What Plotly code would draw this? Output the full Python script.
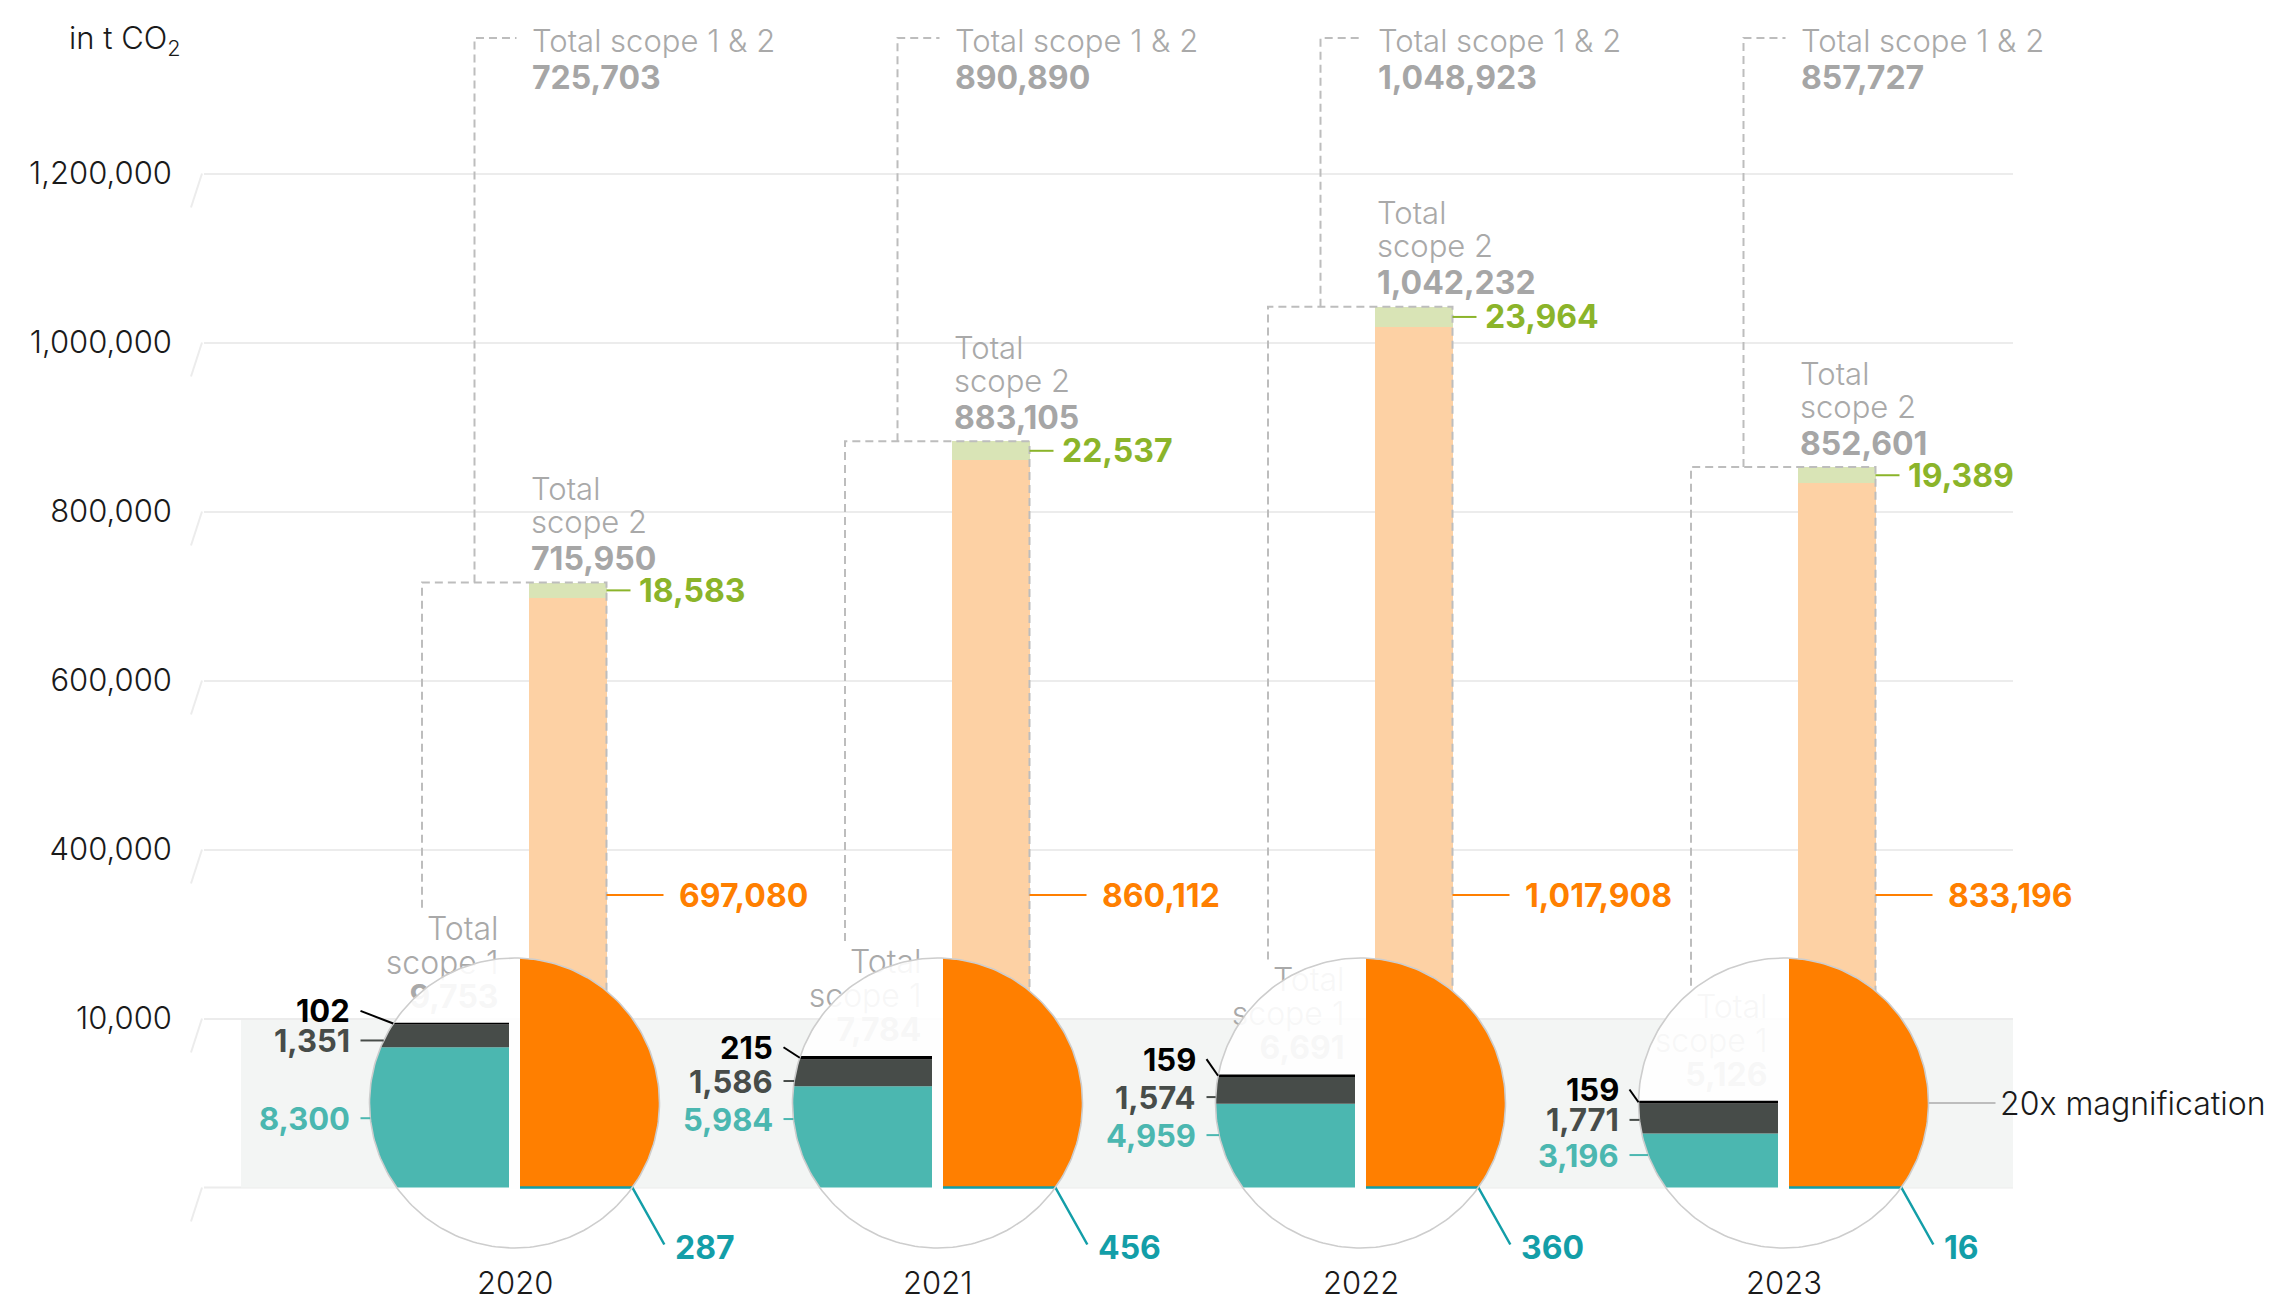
import numpy as np
import plotly.graph_objects as go

# ---------------- data (t CO2) ----------------
years = ["2020", "2021", "2022", "2023"]
scope1_teal = [8300, 5984, 4959, 3196]
scope1_dark = [1351, 1586, 1574, 1771]
scope1_black = [102, 215, 159, 159]
scope1_total = [9753, 7784, 6691, 5126]
scope2_orange = [697080, 860112, 1017908, 833196]
scope2_green = [18583, 22537, 23964, 19389]
scope2_teal = [287, 456, 360, 16]
scope2_total = [715950, 883105, 1042232, 852601]
scope12_total = [725703, 890890, 1048923, 857727]

tick_vals = [200000, 400000, 600000, 800000, 1000000, 1200000]
tick_text = ["10,000", "400,000", "600,000", "800,000", "1,000,000", "1,200,000"]

# label heights (t CO2 inside the magnified 0-10,000 band) for scope 1 labels
lbl_black_pos = [10450, 8300, 7600, 5800]
lbl_dark_pos = [8700, 6300, 5350, 4000]
lbl_teal_pos = [4100, 4050, 3100, 1920]

# ---------------- styling / geometry ----------------
FONT = "Inter, 'Open Sans', sans-serif"
TEAL = "#4bb7b0"
DARK = "#474c49"
BLACK = "#000000"
ORANGE = "#ff7f00"
PEACH = "#fdd1a4"
LGREEN = "#d9e4b6"
GREEN = "#8bb42a"
DTEAL = "#139ea8"
GRAYTXT = "#a9a9a9"
BAND = "#f3f5f4"
GRID = "#ececec"
DASHC = "#bdbdbd"

MAG = 20
BAND_TOP = 10000 * MAG
W, H = 2290, 1300
PL, PR = 204, 2013
ZERO_PX = 1187.5
KY = 169 / 200000.0
KX = 423.0
X0 = 514.5


def ux(p):
    return p / KX


def uy(p):
    return p / KY


def ypage(px):
    return (ZERO_PX - px) / KY


xr = [(PL - X0) / KX, (PR - X0) / KX]
yr = [(ZERO_PX - H) / KY, ZERO_PX / KY]

xs = np.arange(len(years), dtype=float)
R = 145
rx, ry = ux(R), uy(R)
cy = BAND_TOP / 2
gap = ux(5.5)


def hw(y):
    y = np.asarray(y, dtype=float)
    return rx * np.sqrt(np.clip(1 - ((y - cy) / ry) ** 2, 0, None))


fig = go.Figure()

# ---- scope 2 stacked bars (main scale) ----
bar_c, bar_w = ux(53), ux(78)
for vals, col in [(scope2_teal, DTEAL), (scope2_orange, PEACH), (scope2_green, LGREEN)]:
    fig.add_bar(x=xs + bar_c, y=vals, width=bar_w, marker=dict(color=col, line=dict(width=0)),
                hoverinfo="skip", showlegend=False)

# ---- dashed outlines ----
TOP_LINE_Y = ypage(38)
dx_, dy_ = [], []
for i in range(len(years)):
    s1top = scope1_total[i] * MAG
    dx_ += [xs[i] - ux(92.5), xs[i] - ux(92.5), xs[i] + ux(92), xs[i] + ux(92), None]
    dy_ += [s1top + uy(115), scope2_total[i], scope2_total[i], 0, None]
    dx_ += [xs[i] - ux(40), xs[i] - ux(40), xs[i] + ux(2), None]
    dy_ += [scope2_total[i], TOP_LINE_Y, TOP_LINE_Y, None]
fig.add_scatter(x=dx_, y=dy_, mode="lines", line=dict(color=DASHC, width=2, dash="8px,5px"),
                hoverinfo="skip", showlegend=False)

# ---- scope 1 total labels (behind magnifier) ----
lx, ly, lt, bx, by, bt = [], [], [], [], [], []
for i in range(len(years)):
    top = scope1_total[i] * MAG
    lx += [xs[i] - ux(16)] * 2
    ly += [top + uy(91), top + uy(57)]
    lt += ["Total", "scope 1"]
    bx.append(xs[i] - ux(16))
    by.append(top + uy(23))
    bt.append(f"{scope1_total[i]:,}")
fig.add_scatter(x=lx, y=ly, text=lt, mode="text", textposition="middle left",
                textfont=dict(family=FONT, size=32, color=GRAYTXT, weight=300),
                hoverinfo="skip", showlegend=False)
fig.add_scatter(x=bx, y=by, text=bt, mode="text", textposition="middle left",
                textfont=dict(family=FONT, size=32, color=GRAYTXT, weight=700),
                hoverinfo="skip", showlegend=False)

# ---- magnifier circle ----
t = np.linspace(0, 2 * np.pi, 241)
cx_, cy_ = [], []
for i in range(len(years)):
    cx_ += list(xs[i] + rx * np.cos(t)) + [None]
    cy_ += list(cy + ry * np.sin(t)) + [None]
fig.add_scatter(x=cx_, y=cy_, mode="lines", fill="toself", fillcolor="rgba(255,255,255,0.9)",
                line=dict(width=0), hoverinfo="skip", showlegend=False)


# scope 1 segments, clipped to the left half of the magnifier
def seg_poly(i, ya, yb):
    yy = np.linspace(ya, yb, 40)
    xl = xs[i] - hw(yy)
    xl = np.minimum(xl, xs[i] - gap)
    return list(xl) + [xs[i] - gap, xs[i] - gap, None], list(yy) + [yb, ya, None]


for vals_lo, vals, col in [
    ([0] * 4, scope1_teal, TEAL),
    (scope1_teal, scope1_dark, DARK),
    ([a + b for a, b in zip(scope1_teal, scope1_dark)], scope1_black, BLACK),
]:
    px_, py_ = [], []
    for i in range(len(years)):
        a, b = seg_poly(i, vals_lo[i] * MAG, (vals_lo[i] + vals[i]) * MAG)
        px_ += a
        py_ += b
    fig.add_scatter(x=px_, y=py_, mode="lines", fill="toself", fillcolor=col,
                    line=dict(width=0), hoverinfo="skip", showlegend=False)

# scope 2 (orange) right half of the magnifier
ox, oy = [], []
ytop = cy + ry * np.sqrt(1 - (gap / rx) ** 2)
for i in range(len(years)):
    yy = np.linspace(0, ytop, 80)
    ox += list(xs[i] + hw(yy)) + [xs[i] + gap, xs[i] + gap, None]
    oy += list(yy) + [ytop, 0, None]
fig.add_scatter(x=ox, y=oy, mode="lines", fill="toself", fillcolor=ORANGE,
                line=dict(width=0), hoverinfo="skip", showlegend=False)

# small scope 2 component line at the base
tx, ty = [], []
for i in range(len(years)):
    e = xs[i] + float(hw(0))
    tx += [xs[i] + gap, e, e + ux(32), None]
    ty += [0, 0, -uy(57), None]
fig.add_scatter(x=tx, y=ty, mode="lines", line=dict(color=DTEAL, width=2.5),
                hoverinfo="skip", showlegend=False)

# circle outline
fig.add_scatter(x=cx_, y=cy_, mode="lines", line=dict(color="#cdcdcd", width=1.6),
                hoverinfo="skip", showlegend=False)


# ---- connectors ----
def add_lines(xl, yl, col, w=2):
    fig.add_scatter(x=xl, y=yl, mode="lines", line=dict(color=col, width=w),
                    hoverinfo="skip", showlegend=False)


kx, ky = [], []
gx, gy = [], []
ax_, ay_ = [], []
dkx, dky = [], []
tkx, tky = [], []
for i in range(len(years)):
    xr_bar = xs[i] + ux(92)
    gmid = scope2_total[i] - scope2_green[i] / 2
    gx += [xr_bar, xs[i] + ux(116), None]
    gy += [gmid, gmid, None]
    oyl = ypage(895)
    ax_ += [xr_bar, xs[i] + ux(149), None]
    ay_ += [oyl, oyl, None]
    by_ = (scope1_total[i] - scope1_black[i] / 2) * MAG
    kx += [xs[i] - ux(154), xs[i] - float(hw(by_)), None]
    ky += [lbl_black_pos[i] * MAG, by_, None]
    yd = lbl_dark_pos[i] * MAG
    dkx += [xs[i] - ux(154), xs[i] - float(hw(yd)), None]
    dky += [yd, yd, None]
    yt = lbl_teal_pos[i] * MAG
    tkx += [xs[i] - ux(154), xs[i] - float(hw(yt)), None]
    tky += [yt, yt, None]
add_lines(gx, gy, GREEN)
add_lines(ax_, ay_, ORANGE)
add_lines(kx, ky, BLACK)
add_lines(dkx, dky, DARK)
add_lines(tkx, tky, TEAL)
last = xs[-1]
add_lines([last + rx, last + ux(212)], [cy, cy], "#bdbdbd")

# ---- annotations ----
ann = []


def A(x, y, text, color, weight=300, size=32, xanchor="left", xref="x", yref="y"):
    ann.append(dict(x=x, y=y, xref=xref, yref=yref, text=text, showarrow=False,
                    xanchor=xanchor, yanchor="middle",
                    font=dict(family=FONT, size=size, color=color, weight=weight)))


for i in range(len(years)):
    xi = xs[i]
    A(xi + ux(15), ypage(40), "Total scope 1 &amp; 2", GRAYTXT, size=31)
    A(xi + ux(15), ypage(77), f"{scope12_total[i]:,}", "#a6a6a6", 700)
    A(xi + ux(14), scope2_total[i] + uy(94), "Total", GRAYTXT, size=31)
    A(xi + ux(14), scope2_total[i] + uy(61), "scope 2", GRAYTXT, size=31)
    A(xi + ux(14), scope2_total[i] + uy(24), f"{scope2_total[i]:,}", "#a6a6a6", 700)
    A(xi + ux(122), scope2_total[i] - scope2_green[i] / 2, f"{scope2_green[i]:,}", GREEN, 700)
    A(xi + ux(162), ypage(895), f"{scope2_orange[i]:,}", ORANGE, 700)
    A(xi - ux(163), lbl_black_pos[i] * MAG, f"{scope1_black[i]:,}", BLACK, 700, size=31, xanchor="right")
    A(xi - ux(163), lbl_dark_pos[i] * MAG, f"{scope1_dark[i]:,}", DARK, 700, size=31, xanchor="right")
    A(xi - ux(163), lbl_teal_pos[i] * MAG, f"{scope1_teal[i]:,}", TEAL, 700, size=31, xanchor="right")
    A(xi + float(hw(0)) + ux(41), -uy(59.5), f"{scope2_teal[i]:,}", DTEAL, 700)
    A(xi, ypage(1282), years[i], "#1a1a1a", 300, size=31, xanchor="center")

A(last + ux(214), cy, "20x magnification", "#1a1a1a", 300, size=32)
A((183 - PL) / (PR - PL), 1 - 40 / H, "in t CO<sub>2</sub>", "#1a1a1a", 300, size=31,
  xanchor="right", xref="paper", yref="paper")

# ---- shapes: band, base line and slanted grid starts ----
shapes = [
    dict(type="rect", xref="x", yref="y", x0=(241 - X0) / KX, x1=xr[1], y0=0, y1=BAND_TOP,
         fillcolor=BAND, line=dict(width=0), layer="below"),
    dict(type="line", xref="paper", yref="y", x0=0, x1=1, y0=0, y1=0,
         line=dict(color=GRID, width=2), layer="below"),
]
for v in [0] + tick_vals:
    shapes.append(dict(type="line", xref="paper", yref="y",
                       x0=(191 - PL) / (PR - PL), x1=(202 - PL) / (PR - PL),
                       y0=v - uy(34), y1=v, line=dict(color=GRID, width=2)))

fig.update_layout(
    width=W, height=H,
    margin=dict(l=PL, r=W - PR, t=0, b=0, pad=0),
    paper_bgcolor="white", plot_bgcolor="white",
    barmode="stack", bargap=0,
    showlegend=False, hovermode=False,
    annotations=ann, shapes=shapes,
    font=dict(family=FONT),
    xaxis=dict(range=xr, visible=False, fixedrange=True),
    yaxis=dict(range=yr, tickvals=tick_vals, ticktext=tick_text, showgrid=True,
               gridcolor=GRID, gridwidth=2, zeroline=False, showline=False, ticks="",
               ticklabelstandoff=31, automargin=False, fixedrange=True,
               tickfont=dict(family=FONT, size=31, color="#1a1a1a", weight=300)),
)

fig.write_html("out.html", config={"displayModeBar": False},
               post_script="document.body.style.margin='0px';")
